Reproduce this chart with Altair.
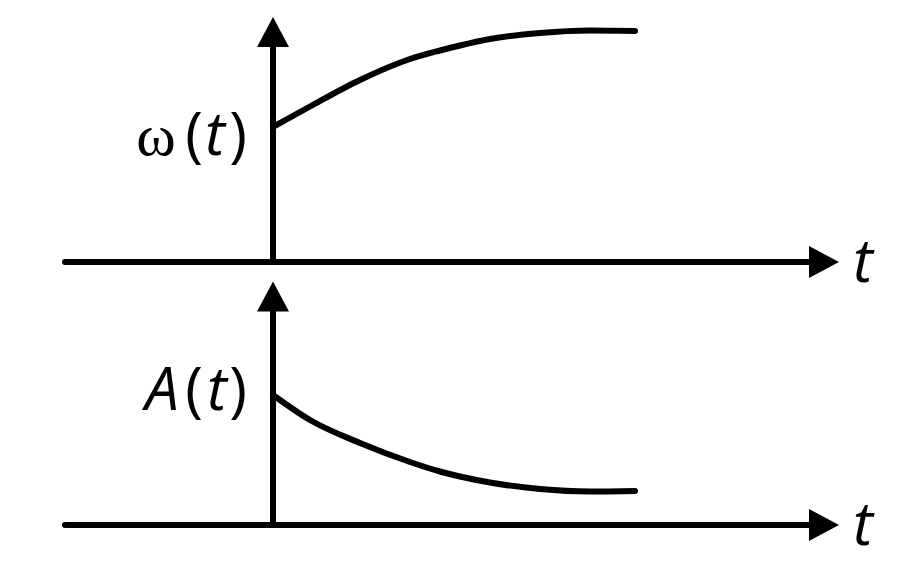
import altair as alt
import pandas as pd

# ---- values (arbitrary diagram units) ----
t_vals = [0.0, 0.37, 0.87, 1.37, 1.67, 1.87, 2.17, 2.67, 3.17, 3.62]
omega_vals = [1.35, 1.555, 1.82, 2.03, 2.115, 2.165, 2.23, 2.29, 2.315, 2.31]
amp_vals = [1.30, 1.05, 0.82, 0.63, 0.535, 0.485, 0.425, 0.36, 0.335, 0.34]

# axis extents
t_axis_start = -2.08
t_axis_end = 5.45
t_arrow = 5.51
v_axis_end = 2.2
omega_arrow = 2.30
amp_arrow = 2.285

# label pieces: (text, x position)
omega_label = [("ω", -1.17), ("(", -0.79), ("t", -0.58), (")", -0.35)]
amp_label = [("A", -1.11), ("(", -0.79), ("t", -0.56), (")", -0.35)]
omega_label_y = 1.07
amp_label_y = 1.15
t_label_x = 5.9
t_label_y_top = -0.20
t_label_y_bot = -0.20

x_domain = [-2.65, 6.19]
omega_domain = [-0.2, 2.54]
amp_domain = [-0.31, 2.43]

W, H = 884, 274
LW = 6
UP = "M0,-0.9375 L1,0.9375 L-1,0.9375 Z"
RIGHT = "M0.9375,0 L-0.9375,1 L-0.9375,-1 Z"


def xs():
    return alt.Scale(domain=x_domain, zero=False, nice=False)


def panel(vals, ydomain, arrow_y, label, label_y, t_lab_y, omega=False):
    ys = lambda: alt.Scale(domain=ydomain, zero=False, nice=False)
    X = lambda f: alt.X(f, type="quantitative", scale=xs(), axis=None)
    Y = lambda f: alt.Y(f, type="quantitative", scale=ys(), axis=None)

    curve = alt.Chart(pd.DataFrame({"t": t_vals, "v": vals})).mark_line(
        color="black", strokeWidth=LW, interpolate="monotone", strokeCap="round"
    ).encode(x=X("t"), y=Y("v"))

    haxis = alt.Chart(pd.DataFrame({"a": [t_axis_start], "b": [t_axis_end], "y": [0.0]})).mark_rule(
        color="black", strokeWidth=LW, strokeCap="round"
    ).encode(x=X("a"), x2="b", y=Y("y"))

    vaxis = alt.Chart(pd.DataFrame({"x": [0.0], "a": [0.0], "b": [v_axis_end]})).mark_rule(
        color="black", strokeWidth=LW
    ).encode(x=X("x"), y=Y("a"), y2="b")

    up = alt.Chart(pd.DataFrame({"x": [0.0], "y": [arrow_y]})).mark_point(
        shape=UP, size=1024, filled=True, color="black", opacity=1, strokeWidth=0
    ).encode(x=X("x"), y=Y("y"))

    right = alt.Chart(pd.DataFrame({"x": [t_arrow], "y": [0.0]})).mark_point(
        shape=RIGHT, size=1024, filled=True, color="black", opacity=1, strokeWidth=0
    ).encode(x=X("x"), y=Y("y"))

    first, paren_l, tt, paren_r = label
    lab_df = lambda items: pd.DataFrame(
        {"text": [i[0] for i in items], "x": [i[1] for i in items], "y": [label_y] * len(items)}
    )
    if omega:
        first_mark = alt.Chart(lab_df([first])).mark_text(
            font="Liberation Serif", fontSize=60, align="center", baseline="alphabetic", color="black"
        )
    else:
        first_mark = alt.Chart(lab_df([first])).mark_text(
            font="Open Sans", fontSize=60, fontStyle="italic", align="center",
            baseline="alphabetic", color="black"
        )
    first_mark = first_mark.encode(x=X("x"), y=Y("y"), text="text:N")

    parens = alt.Chart(lab_df([paren_l, paren_r])).mark_text(
        font="Open Sans", fontSize=60, align="center", baseline="alphabetic", color="black"
    ).encode(x=X("x"), y=Y("y"), text="text:N")

    tmark = alt.Chart(lab_df([tt])).mark_text(
        font="Open Sans", fontSize=60, fontStyle="italic", align="center",
        baseline="alphabetic", color="black"
    ).encode(x=X("x"), y=Y("y"), text="text:N")

    tlab = alt.Chart(pd.DataFrame({"text": ["t"], "x": [t_label_x], "y": [t_lab_y]})).mark_text(
        font="Open Sans", fontSize=60, fontStyle="italic", align="center",
        baseline="alphabetic", color="black"
    ).encode(x=X("x"), y=Y("y"), text="text:N")

    return alt.layer(haxis, vaxis, curve, up, right, first_mark, parens, tmark, tlab).properties(
        width=W, height=H
    )


top = panel(omega_vals, omega_domain, omega_arrow, omega_label, omega_label_y, t_label_y_top, omega=True)
bottom = panel(amp_vals, amp_domain, amp_arrow, amp_label, amp_label_y, t_label_y_bot)

chart = alt.vconcat(top, bottom, spacing=0, bounds="flush").properties(
    padding=0, background="white"
).configure_view(stroke=None)

chart.save("out.html", embed_options={"renderer": "svg", "actions": False})
